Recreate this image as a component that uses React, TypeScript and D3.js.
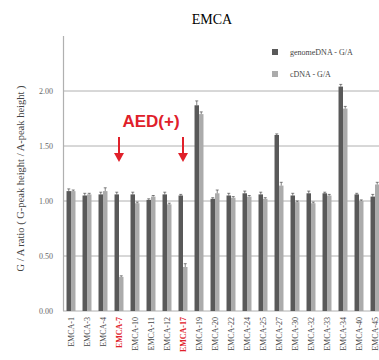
import React from "react";
import * as d3 from "d3";

const categories = ["EMCA-1","EMCA-3","EMCA-4","EMCA-7","EMCA-10","EMCA-11","EMCA-12","EMCA-17","EMCA-19","EMCA-20","EMCA-22","EMCA-24","EMCA-25","EMCA-27","EMCA-30","EMCA-32","EMCA-33","EMCA-34","EMCA-40","EMCA-45"];
const highlighted = ["EMCA-7","EMCA-17"];
const genomeDNA = [1.09,1.05,1.06,1.06,1.06,1.01,1.06,1.05,1.87,1.02,1.05,1.07,1.06,1.60,1.05,1.07,1.07,2.04,1.06,1.04];
const genomeErr = [0.02,0.02,0.02,0.02,0.02,0.01,0.02,0.01,0.04,0.01,0.02,0.02,0.02,0.01,0.02,0.02,0.01,0.02,0.01,0.02];
const cDNA = [1.09,1.06,1.09,0.31,0.98,1.04,0.97,0.40,1.79,1.07,1.03,1.04,1.02,1.14,0.99,0.98,1.05,1.84,1.00,1.15];
const cDNAErr = [0.01,0.01,0.03,0.01,0.01,0.01,0.01,0.03,0.02,0.03,0.01,0.01,0.01,0.03,0.01,0.01,0.01,0.02,0.01,0.02];
const yTicks = [0, 0.5, 1.0, 1.5, 2.0];
const seriesNames = ["genomeDNA - G/A", "cDNA - G/A"];

const W = 379, H = 360;
const DARK = "#595959", LIGHT = "#ababab", GRID = "#b0b0b0";

export default function App() {
  const x = d3.scaleBand<string>().domain(categories).range([63, 383]).paddingInner(0.44).paddingOuter(0.22);
  const xs = d3.scaleBand<string>().domain(["g", "c"]).range([0, x.bandwidth()]);
  const y = d3.scaleLinear().domain([0, 2.5]).range([311, 36]);
  const serif = "'Liberation Serif', 'DejaVu Serif', serif";
  const series = [
    { key: "g", vals: genomeDNA, errs: genomeErr, color: DARK },
    { key: "c", vals: cDNA, errs: cDNAErr, color: LIGHT },
  ];
  return (
    <svg width={W} height={H} style={{ position: "absolute", left: 0, top: 0, background: "#fff" }}>
      <text x={212} y={24} textAnchor="middle" fontFamily={serif} fontSize={14}>EMCA</text>
      {/* grid */}
      {yTicks.map((t) => (
        <g key={t}>
          <line x1={63} x2={W} y1={y(t)} y2={y(t)} stroke={GRID} strokeWidth={1} />
          <text x={53} y={y(t) + 3} textAnchor="end" fontFamily={serif} fontSize={8} fill="#666">{t.toFixed(2)}</text>
        </g>
      ))}
      <line x1={63.5} x2={63.5} y1={y(2.5)} y2={y(0)} stroke={GRID} strokeWidth={1.2} />
      <text transform={`translate(24,${(y(0) + y(2.5)) / 2 + 5}) rotate(-90)`} textAnchor="middle" fontFamily={serif} fontSize={10.5} fill="#444">
        G / A ratio ( G-peak height / A-peak height )
      </text>
      {/* bars */}
      {series.map((s) => (
        <g key={s.key}>
          {categories.map((c, i) => {
            const bx = (x(c) ?? 0) + (xs(s.key) ?? 0);
            const bw = xs.bandwidth();
            const cx = bx + bw / 2;
            const top = y(s.vals[i] + s.errs[i]);
            return (
              <g key={c}>
                <rect x={bx} y={y(s.vals[i])} width={bw} height={y(0) - y(s.vals[i])} fill={s.color} />
                <line x1={cx} x2={cx} y1={top} y2={y(s.vals[i])} stroke="#333" strokeWidth={0.6} />
                <line x1={cx - 1.5} x2={cx + 1.5} y1={top} y2={top} stroke="#333" strokeWidth={0.6} />
              </g>
            );
          })}
        </g>
      ))}
      {/* x labels */}
      {categories.map((c) => {
        const cx = (x(c) ?? 0) + x.bandwidth() / 2;
        const red = highlighted.includes(c);
        return (
          <text key={c} transform={`translate(${cx + 3},${317}) rotate(-90)`} textAnchor="end" fontFamily={serif} fontSize={8} fill={red ? "#e0202a" : "#444"} fontWeight={red ? "bold" : "normal"}>
            {c}
          </text>
        );
      })}
      {/* legend */}
      {series.map((s, i) => (
        <g key={s.key}>
          <rect x={272} y={49 + i * 22} width={6} height={6} fill={s.color} />
          <text x={290} y={55 + i * 22} fontFamily={serif} fontSize={8} fill="#444">{seriesNames[i]}</text>
        </g>
      ))}
      {/* annotation */}
      <text x={151} y={127} textAnchor="middle" fontFamily="'Liberation Sans', Arial, sans-serif" fontWeight="bold" fontSize={17} fill="#e0202a">AED(+)</text>
      {["EMCA-7", "EMCA-17"].map((c) => {
        const cx = (x(c) ?? 0) + x.bandwidth() / 2;
        return (
          <g key={c}>
            <line x1={cx} x2={cx} y1={137} y2={155} stroke="#e0202a" strokeWidth={2} />
            <path d={`M${cx - 5},${153} L${cx + 5},${153} L${cx},${162} Z`} fill="#e0202a" />
          </g>
        );
      })}
    </svg>
  );
}
